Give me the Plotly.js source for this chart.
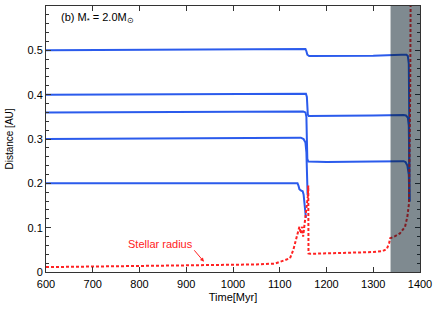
<!DOCTYPE html>
<html>
<head>
<meta charset="utf-8">
<script src="https://cdn.plot.ly/plotly-3.0.1.min.js"></script>
<style>html,body{margin:0;padding:0;background:#fff;}#chart{width:436px;height:309px;}</style>
</head>
<body>
<div id="chart"></div>
<script>
// Planet orbits (time in Myr, distance in AU)
const p1Time = [600, 800, 1000, 1100, 1150, 1155, 1157, 1159, 1163, 1200, 1300, 1360, 1371, 1374, 1376, 1377, 1377.3];
const p1Dist = [0.500, 0.501, 0.502, 0.503, 0.504, 0.503, 0.498, 0.490, 0.487, 0.487, 0.488, 0.490, 0.490, 0.487, 0.47, 0.35, 0.159];

const p2Time = [600, 800, 1000, 1100, 1150, 1156, 1158, 1159, 1160, 1162, 1200, 1300, 1365, 1370, 1374, 1376, 1377, 1377.3];
const p2Dist = [0.400, 0.401, 0.402, 0.403, 0.403, 0.402, 0.395, 0.37, 0.355, 0.352, 0.352, 0.353, 0.354, 0.353, 0.348, 0.33, 0.25, 0.159];

const p3Time = [600, 800, 1000, 1100, 1150, 1155, 1157, 1158, 1159, 1161, 1200, 1300, 1365, 1369, 1373, 1376, 1377, 1377.3];
const p3Dist = [0.360, 0.361, 0.361, 0.362, 0.362, 0.360, 0.35, 0.30, 0.255, 0.249, 0.248, 0.249, 0.250, 0.248, 0.24, 0.22, 0.19, 0.159];

const p4Time = [600, 800, 1000, 1100, 1145, 1151, 1155, 1157, 1158, 1159, 1159.6];
const p4Dist = [0.300, 0.301, 0.302, 0.302, 0.303, 0.300, 0.292, 0.27, 0.23, 0.19, 0.174];

const p5Time = [600, 800, 1000, 1100, 1138, 1140, 1142, 1145, 1149, 1151, 1153, 1155, 1156];
const p5Dist = [0.200, 0.200, 0.201, 0.201, 0.200, 0.195, 0.187, 0.184, 0.182, 0.175, 0.155, 0.135, 0.122];

// Stellar radius (AU)
const starTime = [600, 700, 800, 900, 1000, 1050, 1090, 1100, 1111, 1122, 1129, 1136, 1142, 1145, 1148, 1150, 1153, 1156, 1160, 1161, 1161.5, 1165, 1200, 1250, 1300, 1320, 1329, 1334, 1336, 1345, 1357, 1368, 1373, 1376.5, 1378, 1379, 1380];
const starRad  = [0.011, 0.012, 0.013, 0.014, 0.016, 0.017, 0.019, 0.023, 0.027, 0.031, 0.05, 0.076, 0.102, 0.087, 0.102, 0.08, 0.106, 0.125, 0.17, 0.195, 0.042, 0.041, 0.042, 0.043, 0.045, 0.047, 0.052, 0.065, 0.076, 0.08, 0.087, 0.102, 0.125, 0.155, 0.25, 0.4, 0.62];

// Shaded phase
const shadeStart = 1337;
const shadeEnd = 1400;

const blue = '#2b5bec';
const red = '#ff2222';

function planet(x, y) {
  return {x: x, y: y, type: 'scatter', mode: 'lines', line: {color: blue, width: 2}, hoverinfo: 'skip', showlegend: false};
}

const traces = [
  planet(p1Time, p1Dist),
  planet(p2Time, p2Dist),
  planet(p3Time, p3Dist),
  planet(p4Time, p4Dist),
  planet(p5Time, p5Dist),
  {x: starTime, y: starRad, type: 'scatter', mode: 'lines', line: {color: red, width: 2, dash: '3px,2px'}, hoverinfo: 'skip', showlegend: false}
];

const font = {family: 'Liberation Sans, Arial, sans-serif', size: 11, color: '#000'};

const layout = {
  width: 436, height: 309,
  margin: {l: 46, r: 16, t: 6, b: 37},
  paper_bgcolor: '#fff', plot_bgcolor: '#fff',
  font: font,
  showlegend: false,
  xaxis: {
    range: [600, 1400], dtick: 100, tick0: 600,
    ticks: 'inside', ticklen: 5, tickcolor: '#333', tickwidth: 1,
    showline: true, linecolor: '#333', linewidth: 1, mirror: 'allticks',
    showgrid: false, zeroline: false, ticklabelstandoff: 2,
    tickfont: {family: font.family, size: 11, color: '#000'},
    title: {text: 'Time[Myr]', font: {family: font.family, size: 11, color: '#000'}, standoff: 4}
  },
  yaxis: {
    range: [0, 0.6], dtick: 0.1, tick0: 0,
    ticks: 'inside', ticklen: 5, tickcolor: '#333', tickwidth: 1,
    minor: {dtick: 0.02, ticks: 'inside', ticklen: 3, tickcolor: '#333'},
    showline: true, linecolor: '#333', linewidth: 1, mirror: 'allticks',
    showgrid: false, zeroline: false,
    tickfont: {family: font.family, size: 11, color: '#000'},
    title: {text: 'Distance [AU]', font: {family: font.family, size: 10, color: '#000'}, standoff: 12}
  },
  shapes: [
    {type: 'rect', xref: 'x', yref: 'y', x0: shadeStart, x1: shadeEnd, y0: 0, y1: 0.6,
     fillcolor: 'rgb(0,21,33)', opacity: 0.5, line: {width: 0}, layer: 'above'}
  ],
  annotations: [
    {xref: 'x', yref: 'y', x: 628, y: 0.574, xanchor: 'left', yanchor: 'middle', showarrow: false,
     text: '(b) M<sub>*</sub> = 2.0M<sub>⊙</sub>', font: {family: font.family, size: 11, color: '#000'}},
    {xref: 'x', yref: 'y', x: 772, y: 0.063, xanchor: 'left', yanchor: 'middle', showarrow: false,
     text: 'Stellar radius', font: {family: font.family, size: 11, color: red}},
    {xref: 'x', yref: 'y', x: 938, y: 0.023, text: '', showarrow: true, arrowhead: 2, arrowsize: 0.8,
     arrowwidth: 1, arrowcolor: red, ax: -11, ay: -13, standoff: 0}
  ]
};

Plotly.newPlot('chart', traces, layout, {staticPlot: true, displayModeBar: false});
</script>
</body>
</html>
